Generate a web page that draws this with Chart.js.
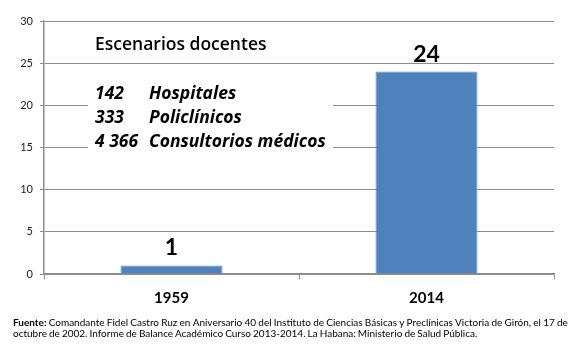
<!DOCTYPE html>
<html>
<head>
<meta charset="utf-8">
<script src="https://cdn.jsdelivr.net/npm/chart.js@4"></script>
<style>
  html, body { margin: 0; padding: 0; background: #fff; }
  #wrap { position: relative; width: 580px; height: 347px; }
  #chart { position: absolute; left: 0; top: 0; }
  .fuente {
    position: absolute; left: 13px; width: 555px; white-space: nowrap;
    font-family: Lato, "Open Sans", sans-serif; font-size: 10px; line-height: 12px;
    color: #000;
  }
  #f1 { top: 316px; display: flex; justify-content: space-between; }
  #f2 { top: 327px; word-spacing: -0.5px; }
</style>
</head>
<body>
<div id="wrap">
  <canvas id="chart" width="580" height="347"></canvas>
  <div class="fuente" id="f1"></div>
  <div class="fuente" id="f2"></div>
</div>
<script>
const years = ["1959", "2014"];
const escenarios = [1, 24];
const yTicks = [0, 5, 10, 15, 20, 25, 30];

const boxTitle = "Escenarios docentes";
const boxNumbers = ["142", "333", "4 366"];
const boxNames = ["Hospitales", "Policlínicos", "Consultorios médicos"];

const sourceLine1 = "Comandante Fidel Castro Ruz en Aniversario 40 del Instituto de Ciencias Básicas y Preclínicas Victoria de Girón, el 17 de";
const sourceLine2 = "octubre de 2002. Informe de Balance Académico Curso 2013-2014. La Habana: Ministerio de Salud Pública.";

const FONT = "Lato, 'Open Sans', sans-serif";
const BOX_FONT = "'Open Sans', Lato, sans-serif";

// footer: first line spread edge to edge like justified text
const f1 = document.getElementById("f1");
const lead = document.createElement("b");
lead.textContent = "Fuente:";
f1.appendChild(lead);
sourceLine1.split(" ").forEach(w => {
  const s = document.createElement("span");
  s.textContent = w;
  f1.appendChild(s);
});
document.getElementById("f2").textContent = sourceLine2;

// white note box over the gridlines, plus value labels above bars
const notesPlugin = {
  id: "notes",
  afterDraw(chart) {
    const ctx = chart.ctx;
    const area = chart.chartArea;
    ctx.save();
    ctx.fillStyle = "#fff";
    ctx.fillRect(area.left + 44, area.top + 50, 245, 90);

    ctx.fillStyle = "#000";
    ctx.textBaseline = "middle";
    ctx.textAlign = "left";
    ctx.font = "600 17.5px " + BOX_FONT;
    ctx.fillText(boxTitle, area.left + 51, area.top + 24);

    ctx.font = "italic bold 17.5px " + BOX_FONT;
    boxNumbers.forEach((n, i) => {
      const y = area.top + 73 + i * 24;
      ctx.fillText(n, area.left + 51, y);
      ctx.fillText(boxNames[i], area.left + 105, y);
    });

    const meta = chart.getDatasetMeta(0);
    ctx.textAlign = "center";
    ctx.textBaseline = "bottom";
    ctx.font = "bold 23px " + FONT;
    meta.data.forEach((bar, i) => {
      ctx.fillText(String(escenarios[i]), bar.x, bar.y - 6);
    });
    ctx.restore();
  }
};

new Chart(document.getElementById("chart"), {
  type: "bar",
  data: {
    labels: years,
    datasets: [{
      data: escenarios,
      backgroundColor: "#4F81BD",
      borderColor: "#5A8ACB",
      borderWidth: 1,
      barPercentage: 0.4,
      categoryPercentage: 1
    }]
  },
  options: {
    responsive: false,
    animation: false,
    layout: { padding: { left: 0, top: 21, right: 26, bottom: 0 } },
    plugins: { legend: { display: false }, tooltip: { enabled: false } },
    scales: {
      y: {
        min: 0,
        max: 30,
        afterFit(scale) { scale.width = 44; },
        afterBuildTicks(scale) { scale.ticks = yTicks.map(v => ({ value: v })); },
        border: { color: "#8c8c8c", width: 1.5 },
        grid: { color: "#8c8c8c", lineWidth: 1, tickLength: 4 },
        ticks: { color: "#222", font: { family: FONT, size: 11 }, padding: 7 }
      },
      x: {
        afterFit(scale) { scale.height = 73; },
        border: { color: "#8c8c8c", width: 1.5 },
        grid: { offset: true, drawOnChartArea: false, color: "#8c8c8c", tickLength: 5 },
        ticks: { color: "#000", font: { family: FONT, size: 15, weight: "bold" }, padding: 10 }
      }
    }
  },
  plugins: [notesPlugin]
});
</script>
</body>
</html>
